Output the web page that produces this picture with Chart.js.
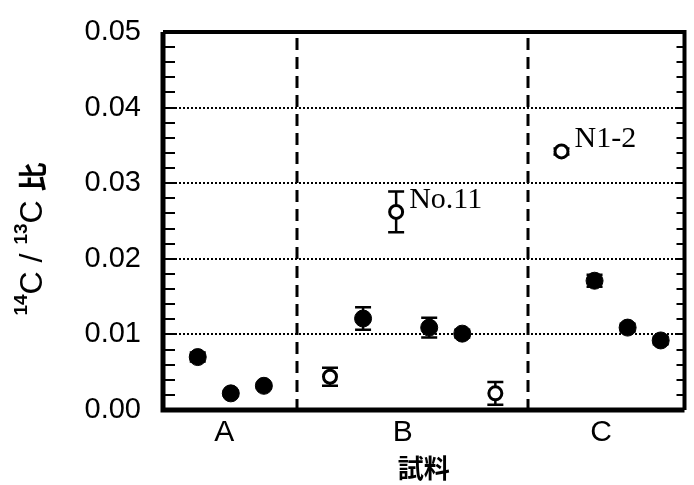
<!DOCTYPE html>
<html>
<head>
<meta charset="utf-8">
<script src="https://cdn.jsdelivr.net/npm/chart.js@4/dist/chart.umd.min.js"></script>
<style>
  html, body { margin: 0; padding: 0; background: #fff; }
  canvas { display: block; }
</style>
</head>
<body>
<canvas id="ratioChart" width="694" height="485"></canvas>
<script>
// sample groups along the x axis
const groupLabels = ['A', 'B', 'C'];
const groupCenters = [1.8, 7.2, 13.2];
const groupBounds = [4, 11];

// filled circles
const filledX = [1, 2, 3, 6, 8, 9, 13, 14, 15];
const filledY = [0.0070, 0.0022, 0.0032, 0.0121, 0.0109, 0.0101, 0.0171, 0.0109, 0.0092];
const filledErr = [0.0006, 0.0003, 0.0003, 0.0015, 0.0013, 0.0005, 0.0008, 0.0005, 0.0005];

// open circles
const openX = [5, 7, 10, 12];
const openY = [0.0044, 0.0262, 0.0022, 0.0342];
const openErr = [0.0012, 0.0027, 0.0015, 0.0004];

// labelled samples
const noteLabels = ['No.11', 'N1-2'];
const noteIndex = [1, 3]; // into the open series

const yTicks = [0, 0.01, 0.02, 0.03, 0.04, 0.05];

const toPoints = (xs, ys) => xs.map((x, i) => ({x: x, y: ys[i]}));

// frame, dotted grid, separators, error bars and the notes
const decor = {
    id: 'decor',
    beforeDatasetsDraw(chart) {
        const {ctx, chartArea: a, scales: {x, y}} = chart;
        ctx.save();
        ctx.strokeStyle = '#000';

        // dotted grid at the inner major ticks
        ctx.lineWidth = 2;
        ctx.setLineDash([2, 2]);
        yTicks.slice(1, -1).forEach(v => {
            const py = Math.round(y.getPixelForValue(v));
            ctx.beginPath();
            ctx.moveTo(a.left, py);
            ctx.lineTo(a.right, py);
            ctx.stroke();
        });

        // dashed group separators
        ctx.lineWidth = 3;
        ctx.setLineDash([12, 7]);
        groupBounds.forEach(v => {
            const px = Math.round(x.getPixelForValue(v));
            ctx.beginPath();
            ctx.moveTo(px, a.top + 6);
            ctx.lineTo(px, a.bottom);
            ctx.stroke();
        });
        ctx.setLineDash([]);

        // minor ticks inside the left and right edges
        ctx.lineWidth = 2;
        for (let v = 0.002; v < 0.05; v += 0.002) {
            const py = Math.round(y.getPixelForValue(v));
            ctx.beginPath();
            ctx.moveTo(a.left, py);
            ctx.lineTo(a.left + 12, py);
            ctx.moveTo(a.right, py);
            ctx.lineTo(a.right - 8, py);
            ctx.stroke();
        }

        // frame
        ctx.lineWidth = 5;
        ctx.beginPath();
        ctx.moveTo(a.left, a.top);
        ctx.lineTo(a.left, a.bottom);
        ctx.lineTo(a.right, a.bottom);
        ctx.stroke();
        ctx.lineWidth = 4;
        ctx.beginPath();
        ctx.moveTo(a.left, a.top);
        ctx.lineTo(a.right, a.top);
        ctx.lineTo(a.right, a.bottom);
        ctx.stroke();

        // error bars
        const bars = (xs, ys, es) => {
            xs.forEach((xv, i) => {
                const px = x.getPixelForValue(xv);
                const top = y.getPixelForValue(ys[i] + es[i]);
                const bot = y.getPixelForValue(Math.max(ys[i] - es[i], 0));
                ctx.lineWidth = 2.5;
                ctx.beginPath();
                ctx.moveTo(px, top);
                ctx.lineTo(px, bot);
                ctx.moveTo(px - 8, top);
                ctx.lineTo(px + 8, top);
                ctx.moveTo(px - 8, bot);
                ctx.lineTo(px + 8, bot);
                ctx.stroke();
            });
        };
        bars(filledX, filledY, filledErr);
        bars(openX, openY, openErr);
        ctx.restore();
    },
    afterDraw(chart) {
        const {ctx, chartArea: a, scales: {x, y}} = chart;
        ctx.save();
        ctx.fillStyle = '#000';

        // notes next to the labelled samples
        ctx.font = '30px "Liberation Serif", "Times New Roman", serif';
        ctx.textBaseline = 'alphabetic';
        noteIndex.forEach((k, i) => {
            const px = x.getPixelForValue(openX[k]);
            const py = y.getPixelForValue(openY[k]);
            ctx.fillText(noteLabels[i], px + 13, py - 4);
        });

        // y title with small superscripts
        ctx.translate(33, (a.top + a.bottom) / 2 + 18);
        ctx.rotate(-Math.PI / 2);
        const parts = [
            ['14', 'bold 19px "Liberation Sans", Arial, sans-serif', -11],
            ['C / ', '32px "Liberation Sans", Arial, sans-serif', 0],
            ['13', 'bold 19px "Liberation Sans", Arial, sans-serif', -11],
            ['C ', '32px "Liberation Sans", Arial, sans-serif', 0],
            ['比', 'bold 29px "Noto Sans CJK JP", sans-serif', 0]
        ];
        let w = 0;
        parts.forEach(p => { ctx.font = p[1]; w += ctx.measureText(p[0]).width; });
        let cx = -w / 2;
        ctx.textBaseline = 'middle';
        parts.forEach(p => {
            ctx.font = p[1];
            ctx.fillText(p[0], cx, p[2]);
            cx += ctx.measureText(p[0]).width;
        });
        ctx.restore();
    }
};

const ctx = document.getElementById('ratioChart').getContext('2d');
const ratioChart = new Chart(ctx, {
    type: 'scatter',
    data: {
        datasets: [
            {
                label: 'filled',
                data: toPoints(filledX, filledY),
                pointRadius: 8.5,
                pointBackgroundColor: '#000',
                pointBorderColor: '#000',
                pointBorderWidth: 1
            },
            {
                label: 'open',
                data: toPoints(openX, openY),
                pointRadius: 6.5,
                pointBackgroundColor: '#fff',
                pointBorderColor: '#000',
                pointBorderWidth: 3
            }
        ]
    },
    options: {
        responsive: false,
        animation: false,
        devicePixelRatio: 1,
        layout: {padding: {top: 32, right: 6, left: 0, bottom: 0}},
        plugins: {legend: {display: false}, tooltip: {enabled: false}},
        scales: {
            x: {
                type: 'linear',
                min: -0.05,
                max: 15.72,
                grid: {display: false, drawTicks: false},
                border: {display: false},
                afterFit: s => { s.height = 75; },
                afterBuildTicks: s => { s.ticks = groupCenters.map(v => ({value: v})); },
                ticks: {
                    color: '#000',
                    padding: 5,
                    maxRotation: 0,
                    autoSkip: false,
                    font: {family: '"Liberation Sans", Arial, sans-serif', size: 30},
                    callback: (v, i) => groupLabels[i]
                },
                title: {
                    display: true,
                    text: '試料',
                    color: '#000',
                    padding: {top: 0, bottom: 1},
                    font: {family: '"Noto Sans CJK JP", sans-serif', size: 26, weight: 'bold'}
                }
            },
            y: {
                min: 0,
                max: 0.05,
                // tick marks stay hidden; their length only spaces the labels off the frame
                grid: {display: false, drawTicks: true, tickLength: 22},
                border: {display: false},
                afterFit: s => { s.width = 163; },
                afterBuildTicks: s => { s.ticks = yTicks.map(v => ({value: v})); },
                ticks: {
                    color: '#000',
                    padding: 0,
                    font: {family: '"Liberation Sans", Arial, sans-serif', size: 29},
                    callback: v => v.toFixed(2)
                }
            }
        }
    },
    plugins: [decor]
});
</script>
</body>
</html>
